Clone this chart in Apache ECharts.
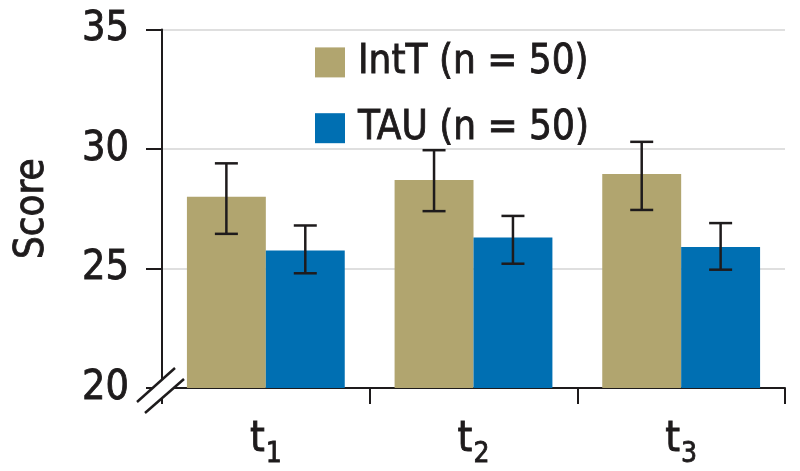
<!DOCTYPE html>
<html>
<head>
<meta charset="utf-8">
<script src="https://cdn.jsdelivr.net/npm/echarts@6/dist/echarts.min.js"></script>
<style>
  html, body { margin: 0; padding: 0; background: #fff; }
  #chart { width: 800px; height: 471px; }
</style>
</head>
<body>
<div id="chart"></div>
<script>
// data
var categories = ['t1', 't2', 't3'];
var seriesNames = ['IntT (n = 50)', 'TAU (n = 50)'];
var intTMean = [28.0, 28.7, 28.95];
var intTLow  = [26.45, 27.4, 27.45];
var intTHigh = [29.4, 29.95, 30.3];
var tauMean  = [25.75, 26.3, 25.9];
var tauLow   = [24.8, 25.2, 24.95];
var tauHigh  = [26.8, 27.2, 26.9];
var yTicks   = [20, 25, 30, 35];

var FONT = '"Liberation Sans Narrow", "DejaVu Sans Condensed", sans-serif';
var INK = '#1e1b1c';
var GRID_LEFT = 162;
var BAR_FRAC = 0.38;
// slightly heavier text, the original uses a medium condensed face
var HEAVY = { textBorderColor: INK, textBorderWidth: 0.8 };

// error bar data: [category index, low, high]
function errData(low, high) {
    var res = [];
    for (var i = 0; i < low.length; i++) {
        res.push([i, low[i], high[i]]);
    }
    return res;
}

function errRender(sign) {
    return function (params, api) {
        var bw = api.size([1, 0])[0] * BAR_FRAC;
        var hi = api.coord([api.value(0), api.value(2)]);
        var lo = api.coord([api.value(0), api.value(1)]);
        var x = hi[0] + sign * bw / 2;
        var cap = 11.5;
        var style = { stroke: INK, lineWidth: 2.5, fill: null };
        return {
            type: 'group',
            children: [
                { type: 'line', shape: { x1: x, y1: hi[1], x2: x, y2: lo[1] }, style: style },
                { type: 'line', shape: { x1: x - cap, y1: hi[1], x2: x + cap, y2: hi[1] }, style: style },
                { type: 'line', shape: { x1: x - cap, y1: lo[1], x2: x + cap, y2: lo[1] }, style: style }
            ]
        };
    };
}

var chart = echarts.init(document.getElementById('chart'));

chart.setOption({
    animation: false,
    backgroundColor: '#fff',
    grid: { left: GRID_LEFT, right: 15, top: 29.5, bottom: 83 },
    legend: {
        data: seriesNames,
        orient: 'vertical',
        left: 310,
        top: 37,
        itemWidth: 30,
        itemHeight: 30,
        itemGap: 25,
        icon: 'rect',
        textStyle: Object.assign({ fontFamily: FONT, fontSize: 40, lineHeight: 30, color: INK, padding: [0, 0, 0, 8] }, HEAVY)
    },
    xAxis: {
        type: 'category',
        data: categories,
        axisLine: { lineStyle: { color: INK, width: 2 } },
        axisTick: { show: true, length: 16, lineStyle: { color: INK, width: 2 } },
        axisLabel: {
            margin: 31,
            formatter: function (v) {
                return '{t|' + v.charAt(0) + '}{s|' + v.slice(1) + '}';
            },
            rich: {
                t: Object.assign({ fontFamily: FONT, fontSize: 42, color: INK, lineHeight: 42, verticalAlign: 'top' }, HEAVY),
                s: Object.assign({ fontFamily: FONT, fontSize: 28, color: INK, lineHeight: 28, verticalAlign: 'top', padding: [22, 0, 0, 1] }, HEAVY)
            }
        }
    },
    yAxis: {
        type: 'value',
        min: yTicks[0],
        max: yTicks[yTicks.length - 1],
        interval: 5,
        name: 'Score',
        nameLocation: 'middle',
        nameGap: 109,
        nameRotate: 90,
        nameTextStyle: Object.assign({ fontFamily: FONT, fontSize: 40, color: INK }, HEAVY),
        axisLine: { show: true, lineStyle: { color: INK, width: 2 } },
        axisTick: { show: true, length: 16, lineStyle: { color: INK, width: 2 } },
        axisLabel: Object.assign({ margin: 33, fontFamily: FONT, fontSize: 41, color: INK }, HEAVY),
        splitLine: { lineStyle: { color: '#d4d4d4', width: 1.5 } }
    },
    series: [
        {
            name: seriesNames[0],
            type: 'bar',
            data: intTMean,
            barWidth: (BAR_FRAC * 100) + '%',
            barGap: '0%',
            itemStyle: { color: '#b1a56f' }
        },
        {
            name: seriesNames[1],
            type: 'bar',
            data: tauMean,
            barWidth: (BAR_FRAC * 100) + '%',
            barGap: '0%',
            itemStyle: { color: '#006fb2' }
        },
        {
            type: 'custom',
            renderItem: errRender(-1),
            data: errData(intTLow, intTHigh),
            encode: { x: 0, y: [1, 2] },
            z: 10
        },
        {
            type: 'custom',
            renderItem: errRender(1),
            data: errData(tauLow, tauHigh),
            encode: { x: 0, y: [1, 2] },
            z: 10
        }
    ]
});

// axis break mark at the origin
var oy = chart.convertToPixel({ yAxisIndex: 0 }, yTicks[0]);
var ox = GRID_LEFT;
var s1 = [[ox - 25, oy + 14], [ox + 13, oy - 20]];
var s2 = [[ox - 17, oy + 25], [ox + 22, oy - 9]];
chart.setOption({
    graphic: [
        { type: 'polygon', z: 100, shape: { points: [s1[0], s1[1], s2[1], s2[0]] }, style: { fill: '#fff' } },
        { type: 'line', z: 101, shape: { x1: s1[0][0], y1: s1[0][1], x2: s1[1][0], y2: s1[1][1] }, style: { stroke: INK, lineWidth: 2.5 } },
        { type: 'line', z: 101, shape: { x1: s2[0][0], y1: s2[0][1], x2: s2[1][0], y2: s2[1][1] }, style: { stroke: INK, lineWidth: 2.5 } }
    ]
});
</script>
</body>
</html>
